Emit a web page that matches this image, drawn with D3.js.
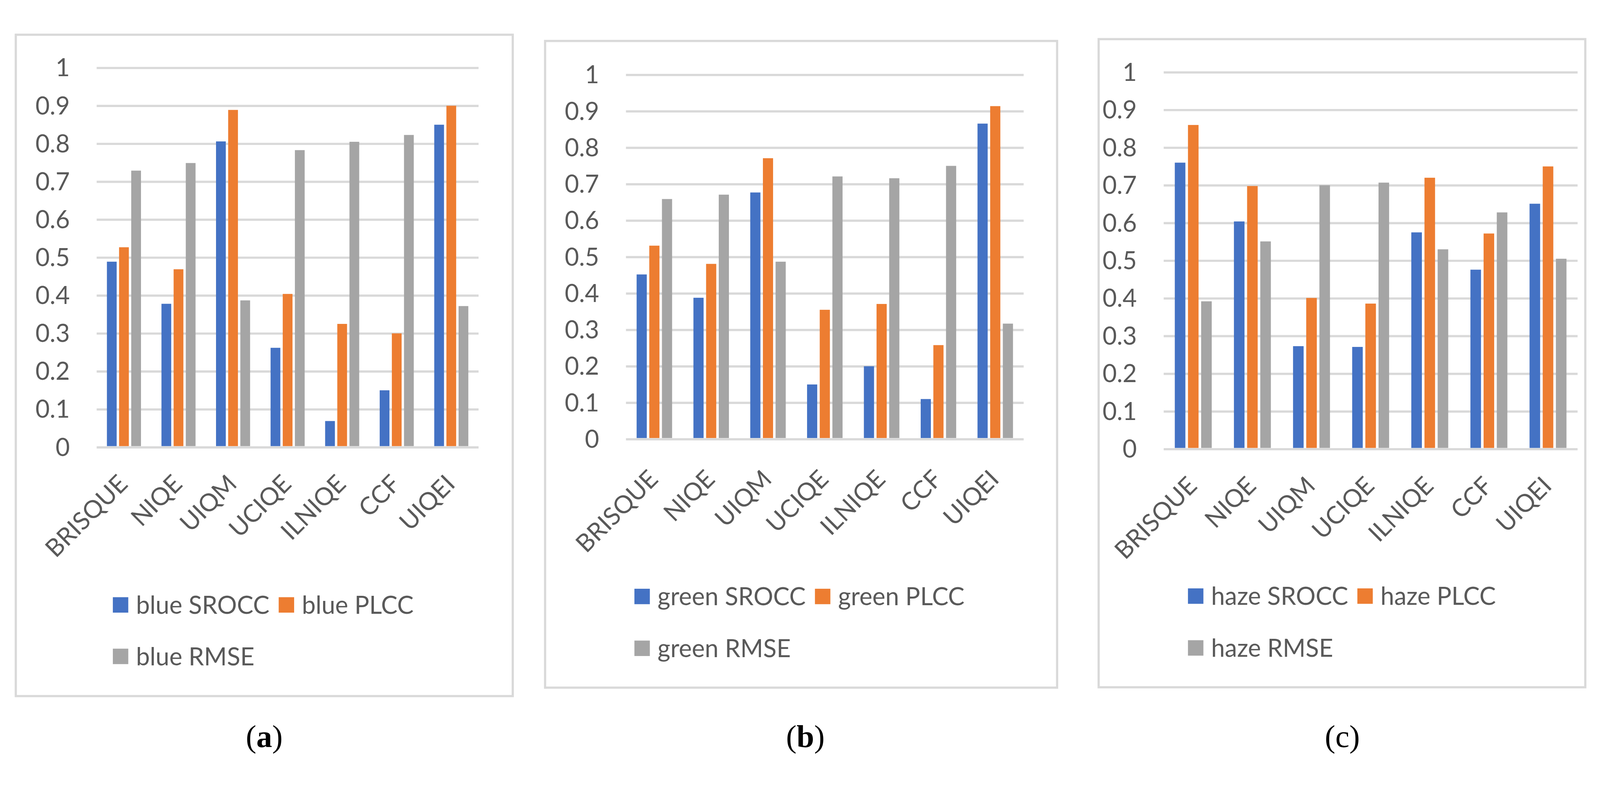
<!DOCTYPE html>
<html>
<head>
<meta charset="utf-8">
<script src="https://cdn.jsdelivr.net/npm/d3@7"></script>
<style>
  html, body { margin: 0; padding: 0; width: 100%; height: 100%; overflow: hidden; background: #fff; }
  #chart { width: 100vw; height: 100vh; }
  svg { display: block; }
</style>
</head>
<body>
<div id="chart"></div>
<script>
// categories and ticks
const categories = ["BRISQUE", "NIQE", "UIQM", "UCIQE", "ILNIQE", "CCF", "UIQEI"];
const yTicks = [0, 0.1, 0.2, 0.3, 0.4, 0.5, 0.6, 0.7, 0.8, 0.9, 1];
const metricNames = ["SROCC", "PLCC", "RMSE"];
const panelPrefixes = ["blue", "green", "haze"];
const captionLetters = ["a", "b", "c"];

// (a) blue
const blueSrocc = [0.489, 0.378, 0.806, 0.262, 0.069, 0.150, 0.850];
const bluePlcc  = [0.527, 0.469, 0.889, 0.404, 0.325, 0.300, 0.900];
const blueRmse  = [0.729, 0.749, 0.387, 0.783, 0.805, 0.823, 0.372];

// (b) green
const greenSrocc = [0.452, 0.388, 0.677, 0.150, 0.200, 0.110, 0.866];
const greenPlcc  = [0.531, 0.481, 0.771, 0.355, 0.371, 0.258, 0.914];
const greenRmse  = [0.659, 0.671, 0.487, 0.721, 0.716, 0.750, 0.317];

// (c) haze
const hazeSrocc = [0.760, 0.604, 0.273, 0.271, 0.575, 0.476, 0.651];
const hazePlcc  = [0.860, 0.698, 0.401, 0.386, 0.720, 0.572, 0.750];
const hazeRmse  = [0.392, 0.551, 0.700, 0.707, 0.530, 0.628, 0.505];

const panelValues = [
  [blueSrocc, bluePlcc, blueRmse],
  [greenSrocc, greenPlcc, greenRmse],
  [hazeSrocc, hazePlcc, hazeRmse]
];

const colors = ["#4472C4", "#ED7D31", "#A5A5A5"];
const gridColor = "#D9D9D9";
const textColor = "#595959";
const font = "Lato, 'Open Sans', sans-serif";
const fontSize = 67;

const W = 4353, H = 2022;

// page layout of each panel (pixels)
const panels = [
  { box: [43, 31, 1395, 1830], plotX: [263, 1302], y1: 121, y0: 1153, labelDy: 104, legendX: 307, legendY: [1582, 1722], captionX: 719 },
  { box: [1483, 48, 2876, 1807], plotX: [1703, 2785], y1: 140, y0: 1131, labelDy: 113, legendX: 1726, legendY: [1559, 1700], captionX: 2191 },
  { box: [2989, 43, 4313, 1806], plotX: [3166, 4292], y1: 133, y0: 1158, labelDy: 104, legendX: 3232, legendY: [1558, 1699], captionX: 3652 }
];

// scale to the viewport so nothing gets cut off
const svg = d3.select("#chart")
  .append("svg")
  .attr("viewBox", `0 0 ${W} ${H}`)
  .attr("preserveAspectRatio", "xMidYMid meet")
  .attr("width", "100%")
  .attr("height", "100%");

svg.append("rect")
  .attr("width", W)
  .attr("height", H)
  .attr("fill", "#fff");

panels.forEach((p, i) => {
  const g = svg.append("g");

  // chart border
  g.append("rect")
    .attr("x", p.box[0])
    .attr("y", p.box[1])
    .attr("width", p.box[2] - p.box[0])
    .attr("height", p.box[3] - p.box[1])
    .attr("fill", "#fff")
    .attr("stroke", gridColor)
    .attr("stroke-width", 6);

  const x = d3.scaleBand()
    .domain(categories)
    .range(p.plotX);

  const y = d3.scaleLinear()
    .domain([0, 1])
    .range([p.y0, p.y1]);

  // y axis with gridlines
  const yAxis = d3.axisLeft(y)
    .tickValues(yTicks)
    .tickFormat(d => d3.format("")(+d.toFixed(1)))
    .tickSize(-(p.plotX[1] - p.plotX[0]))
    .tickPadding(73);

  const yg = g.append("g")
    .attr("transform", `translate(${p.plotX[0]},0)`)
    .call(yAxis);
  yg.select(".domain").remove();
  yg.selectAll(".tick line")
    .attr("stroke", gridColor)
    .attr("stroke-width", 6);
  yg.selectAll(".tick text")
    .attr("fill", textColor)
    .attr("font-family", font)
    .attr("font-size", fontSize)
    .attr("dy", "0.34em");

  // bars
  const band = x.bandwidth();
  const barW = band * 0.179;
  const step = barW * 1.245;
  const groupW = step * 2 + barW;

  panelValues[i].forEach((vals, s) => {
    g.append("g")
      .selectAll("rect")
      .data(vals)
      .join("rect")
      .attr("x", (d, k) => x(categories[k]) + (band - groupW) / 2 + s * step)
      .attr("y", d => y(d))
      .attr("width", barW)
      .attr("height", d => y(0) - y(d) - 3)
      .attr("fill", colors[s]);
  });

  // x axis labels, rotated
  const xAxis = d3.axisBottom(x).tickSize(0).tickPadding(0);
  const xg = g.append("g")
    .attr("transform", `translate(0,${p.y0})`)
    .call(xAxis);
  xg.select(".domain").remove();
  xg.selectAll(".tick text")
    .attr("fill", textColor)
    .attr("font-family", font)
    .attr("font-size", fontSize)
    .attr("text-anchor", "end")
    .attr("y", 0)
    .attr("dy", 0)
    .attr("transform", `translate(14,${p.labelDy}) rotate(-45)`);

  // legend
  const legendItems = metricNames.map((m, s) => ({ label: `${panelPrefixes[i]} ${m}`, color: colors[s] }));
  let lx = p.legendX;
  legendItems.forEach((item, s) => {
    const row = s < 2 ? 0 : 1;
    if (s === 2) lx = p.legendX;
    const cy = p.legendY[row];
    g.append("rect")
      .attr("x", lx)
      .attr("y", cy - 21)
      .attr("width", 42)
      .attr("height", 42)
      .attr("fill", item.color);
    const t = g.append("text")
      .attr("x", lx + 63)
      .attr("y", cy)
      .attr("dy", "0.36em")
      .attr("fill", textColor)
      .attr("font-family", font)
      .attr("font-size", fontSize)
      .text(item.label);
    lx = lx + 63 + t.node().getComputedTextLength() + 25;
  });

  // caption
  const cap = svg.append("text")
    .attr("x", p.captionX)
    .attr("y", 1969)
    .attr("text-anchor", "middle")
    .attr("font-family", "'Liberation Serif', 'DejaVu Serif', serif")
    .attr("font-size", 86)
    .attr("fill", "#000");
  cap.append("tspan").text("(");
  cap.append("tspan")
    .attr("font-weight", i < 2 ? "bold" : "normal")
    .text(captionLetters[i]);
  cap.append("tspan").text(")");
});
</script>
</body>
</html>
